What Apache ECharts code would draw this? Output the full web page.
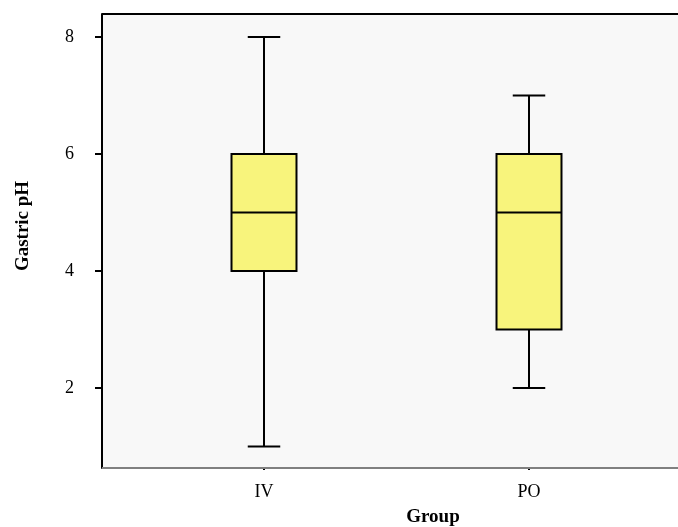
<!DOCTYPE html>
<html><head><meta charset="utf-8">
<script src="https://cdn.jsdelivr.net/npm/echarts@6/dist/echarts.min.js"></script>
<style>html,body{margin:0;padding:0;background:#fff}#c{width:678px;height:527px}</style>
</head><body><div id="c"></div>
<script>
const categories = ['IV', 'PO'];
const whiskerLow = [1, 2];
const q1 = [4, 3];
const median = [5, 5];
const q3 = [6, 6];
const whiskerHigh = [8, 7];
const yTicks = [2, 4, 6, 8];

const data = categories.map((c, i) => [i, whiskerLow[i], q1[i], median[i], q3[i], whiskerHigh[i]]);
const chart = echarts.init(document.getElementById('c'));
const FONT = '"Liberation Serif", "Times New Roman", serif';
const L = 102, T = 14, B = 468, R = 678;

function renderItem(params, api) {
  const x = api.value(0);
  const band = api.size([1, 0])[0];
  const hw = band * 0.1226;
  const cw = hw / 2;
  const pLow = api.coord([x, api.value(1)]);
  const pQ1 = api.coord([x, api.value(2)]);
  const pMed = api.coord([x, api.value(3)]);
  const pQ3 = api.coord([x, api.value(4)]);
  const pHigh = api.coord([x, api.value(5)]);
  const cx = pQ1[0];
  const ls = { stroke: '#000', lineWidth: 2 };
  return {
    type: 'group',
    children: [
      { type: 'line', shape: { x1: cx, y1: pHigh[1], x2: cx, y2: pQ3[1] }, style: ls },
      { type: 'line', shape: { x1: cx, y1: pQ1[1], x2: cx, y2: pLow[1] }, style: ls },
      { type: 'line', shape: { x1: cx - cw, y1: pHigh[1], x2: cx + cw, y2: pHigh[1] }, style: ls },
      { type: 'line', shape: { x1: cx - cw, y1: pLow[1], x2: cx + cw, y2: pLow[1] }, style: ls },
      { type: 'rect', shape: { x: cx - hw, y: pQ3[1], width: hw * 2, height: pQ1[1] - pQ3[1] }, style: { fill: '#f8f47c', stroke: '#000', lineWidth: 2 } },
      { type: 'line', shape: { x1: cx - hw, y1: pMed[1], x2: cx + hw, y2: pMed[1] }, style: ls }
    ]
  };
}

chart.setOption({
  animation: false,
  grid: { left: 131.5, right: 16.5, top: T, bottom: 527 - B },
  graphic: [
    { type: 'rect', z: -10, silent: true, shape: { x: L, y: T, width: R - L, height: B - T }, style: { fill: '#f8f8f8' } },
    { type: 'line', z: 10, shape: { x1: L, y1: T, x2: R, y2: T }, style: { stroke: '#000', lineWidth: 2 } },
    { type: 'line', z: 10, shape: { x1: L, y1: B, x2: R, y2: B }, style: { stroke: '#808080', lineWidth: 2 } },
    { type: 'text', z: 10, x: 23, y: 226, rotation: Math.PI / 2, style: { text: 'Gastric pH', font: 'bold 19px ' + FONT, fill: '#000', align: 'center', verticalAlign: 'middle' } },
    { type: 'text', z: 10, x: 433, y: 517, style: { text: 'Group', font: 'bold 19px ' + FONT, fill: '#000', align: 'center', verticalAlign: 'middle' } }
  ],
  xAxis: {
    type: 'category', data: categories, boundaryGap: true,
    axisLine: { show: false },
    axisTick: { show: true, alignWithLabel: true, length: 2, lineStyle: { color: '#000', width: 2 } },
    axisLabel: { color: '#000', fontFamily: FONT, fontSize: 18, margin: 15 }
  },
  yAxis: {
    type: 'value', min: 0.632, max: 8.393, offset: 29.5,
    splitLine: { show: false },
    axisLine: { show: true, lineStyle: { color: '#000', width: 2 } },
    axisTick: { show: true, length: 7, customValues: yTicks, lineStyle: { color: '#000', width: 2 } },
    axisLabel: { color: '#000', fontFamily: FONT, fontSize: 18, margin: 28, customValues: yTicks }
  },
  series: [{ type: 'custom', renderItem: renderItem, data: data, encode: { x: 0, y: [1, 2, 3, 4, 5] } }]
});
</script></body></html>
